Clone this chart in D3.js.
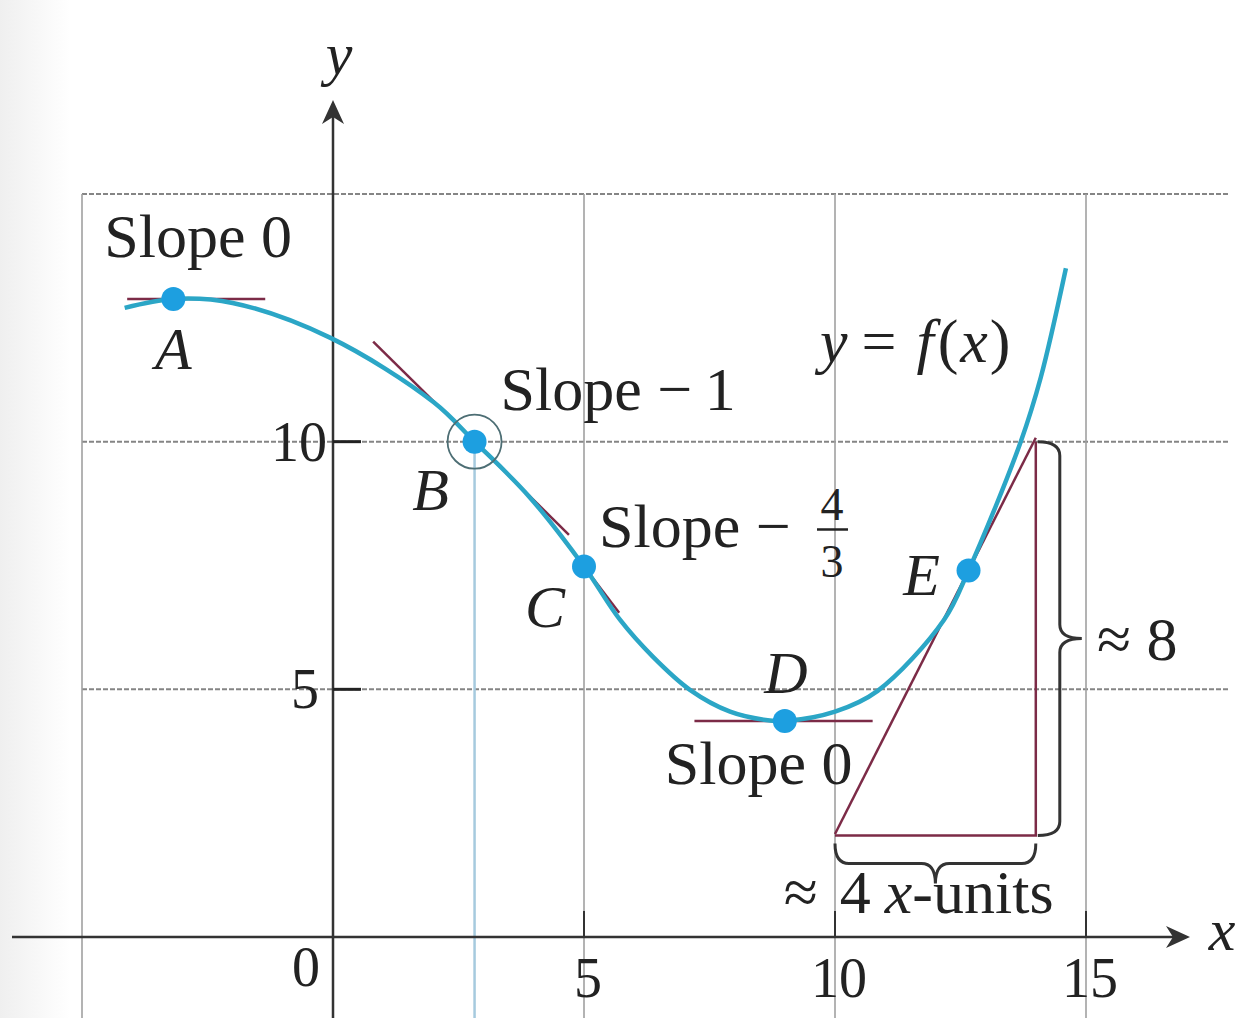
<!DOCTYPE html>
<html>
<head>
<meta charset="utf-8">
<script src="https://cdn.jsdelivr.net/npm/d3@7"></script>
<style>
    html, body { margin: 0; padding: 0; background: #fff; }
    svg { display: block; }
    text { font-family: "Liberation Serif", "Times New Roman", serif; fill: #222; }
    .it { font-style: italic; }
</style>
</head>
<body>
<svg id="chart" width="1240" height="1018"></svg>
<script>
// curve y = f(x), samples
const curveX = [-4.15, -3.18, -2.0, -0.06, 2.0, 2.82, 3.9, 5.0, 5.72, 6.37, 7.11, 7.91, 8.7, 9.0, 10.0, 10.85, 12.17, 12.66, 13.7, 14.1, 14.6];
const curveY = [12.7, 12.88, 12.8, 12.1, 10.8, 10.0, 8.9, 7.48, 6.4, 5.66, 4.99, 4.55, 4.37, 4.36, 4.55, 4.97, 6.4, 7.4, 10.0, 11.3, 13.5];

// marked points
const pointNames = ["A", "B", "C", "D", "E"];
const pointX = [-3.18, 2.82, 5.0, 9.0, 12.66];
const pointY = [12.88, 10.0, 7.48, 4.36, 7.4];

// tangent segments: through the point, from x1 to x2, with slope
const tangentX1 = [-4.1, 0.8, 4.45, 7.2, 10.0];
const tangentX2 = [-1.35, 4.7, 5.7, 10.75, 14.0];
const tangentSlope = [0, -1, -4 / 3, 0, 2];

// rise / run triangle at E
const runStart = [10, 2.05];
const runEnd = [14, 2.05];
const riseEnd = [14, 10];

// grid and ticks
const gridX = [-5, 5, 10, 15];
const gridY = [5, 10, 15];
const xTickLabels = [0, 5, 10, 15];
const yTickLabels = [5, 10];

const svg = d3.select("#chart");

const x = d3.scaleLinear().domain([-5, 15]).range([82, 1086]);
const y = d3.scaleLinear().domain([0, 15]).range([937, 194]);

const xMin = x.invert(12), xMax = x.invert(1230), xArrow = x.invert(1190);
const yBottom = y.invert(1018), yArrow = y.invert(100);

// faint scanned-paper shading at the left edge
const grad = svg.append("defs").append("linearGradient").attr("id", "edge");
grad.append("stop").attr("offset", "0").attr("stop-color", "#efefef");
grad.append("stop").attr("offset", "1").attr("stop-color", "#ffffff");
svg.append("rect").attr("x", 0).attr("y", 0).attr("width", 70).attr("height", 1018).attr("fill", "url(#edge)");

// grid
svg.append("g").selectAll("line")
    .data(gridY)
    .join("line")
    .attr("x1", x(-5)).attr("x2", x(xMax))
    .attr("y1", d => y(d)).attr("y2", d => y(d))
    .attr("stroke", "#858585").attr("stroke-width", 2).attr("stroke-dasharray", "5 2");

svg.append("g").selectAll("line")
    .data(gridX)
    .join("line")
    .attr("x1", d => x(d)).attr("x2", d => x(d))
    .attr("y1", y(15)).attr("y2", y(yBottom))
    .attr("stroke", "#a0a0a0").attr("stroke-width", 1.6);

// vertical line from B down
svg.append("line")
    .attr("x1", x(pointX[1])).attr("x2", x(pointX[1]))
    .attr("y1", y(pointY[1])).attr("y2", y(yBottom))
    .attr("stroke", "#a6cade").attr("stroke-width", 2.5);

// axes
svg.append("line")
    .attr("x1", x(xMin)).attr("x2", x(xArrow) - 6)
    .attr("y1", y(0)).attr("y2", y(0))
    .attr("stroke", "#333").attr("stroke-width", 2.5);
svg.append("line")
    .attr("x1", x(0)).attr("x2", x(0))
    .attr("y1", y(yBottom)).attr("y2", y(yArrow) + 6)
    .attr("stroke", "#333").attr("stroke-width", 2.5);

// arrow heads
const ax = x(xArrow), ay = y(0);
svg.append("path")
    .attr("d", `M${ax},${ay} L${ax - 24},${ay - 11} L${ax - 17},${ay} L${ax - 24},${ay + 11} Z`)
    .attr("fill", "#333");
const bx = x(0), by = y(yArrow);
svg.append("path")
    .attr("d", `M${bx},${by} L${bx - 11},${by + 24} L${bx},${by + 17} L${bx + 11},${by + 24} Z`)
    .attr("fill", "#333");

// tick stubs
svg.append("g").selectAll("line")
    .data(xTickLabels.filter(d => d !== 0))
    .join("line")
    .attr("x1", d => x(d)).attr("x2", d => x(d))
    .attr("y1", y(0)).attr("y2", y(0) - 26)
    .attr("stroke", "#333").attr("stroke-width", 2);
svg.append("g").selectAll("line")
    .data(yTickLabels)
    .join("line")
    .attr("x1", x(0)).attr("x2", x(0) + 28)
    .attr("y1", d => y(d)).attr("y2", d => y(d))
    .attr("stroke", "#222").attr("stroke-width", 3);

// tick labels
svg.append("g").selectAll("text")
    .data(xTickLabels)
    .join("text")
    .attr("x", d => d === 0 ? x(0) - 27 : x(d) + 4)
    .attr("y", d => d === 0 ? 986 : 997)
    .attr("text-anchor", "middle")
    .style("font-size", "56px")
    .text(d => d);
svg.append("g").selectAll("text")
    .data(yTickLabels)
    .join("text")
    .attr("x", d => d === 10 ? x(0) - 6 : x(0) - 14)
    .attr("y", d => y(d) + 19)
    .attr("text-anchor", "end")
    .style("font-size", "56px")
    .text(d => d);

// axis names
svg.append("text").attr("class", "it").attr("x", x(0) + 6).attr("y", 74)
    .attr("text-anchor", "middle").style("font-size", "60px").text("y");
svg.append("text").attr("class", "it").attr("x", 1222).attr("y", 950)
    .attr("text-anchor", "middle").style("font-size", "60px").text("x");

// tangents
const tangentColour = "#7c2b47";
svg.append("g").selectAll("line")
    .data(pointNames)
    .join("line")
    .attr("x1", (d, i) => x(tangentX1[i]))
    .attr("x2", (d, i) => x(tangentX2[i]))
    .attr("y1", (d, i) => y(pointY[i] + tangentSlope[i] * (tangentX1[i] - pointX[i])))
    .attr("y2", (d, i) => y(pointY[i] + tangentSlope[i] * (tangentX2[i] - pointX[i])))
    .attr("stroke", tangentColour).attr("stroke-width", 2.5);

// rise / run triangle
svg.append("path")
    .attr("d", d3.line()([[x(runStart[0]), y(runStart[1])], [x(runEnd[0]), y(runEnd[1])], [x(riseEnd[0]), y(riseEnd[1])]]))
    .attr("fill", "none").attr("stroke", tangentColour).attr("stroke-width", 2.5);

// curve
const line = d3.line()
    .x(d => x(d[0]))
    .y(d => y(d[1]))
    .curve(d3.curveCatmullRom.alpha(0.5));
svg.append("path")
    .datum(d3.zip(curveX, curveY))
    .attr("d", line)
    .attr("fill", "none")
    .attr("stroke", "#2ba6c6")
    .attr("stroke-width", 4.5);

// circle round B
svg.append("circle")
    .attr("cx", x(pointX[1])).attr("cy", y(pointY[1])).attr("r", 27)
    .attr("fill", "none").attr("stroke", "#4d6e74").attr("stroke-width", 1.8);

// points
svg.append("g").selectAll("circle")
    .data(pointNames)
    .join("circle")
    .attr("cx", (d, i) => x(pointX[i]))
    .attr("cy", (d, i) => y(pointY[i]))
    .attr("r", 12)
    .attr("fill", "#1d9fe0");

// braces
function vBrace(x0, y0, y1, w) {
    const m = (y0 + y1) / 2, r = 14;
    return `M${x0},${y0} Q${x0 + w},${y0} ${x0 + w},${y0 + r} L${x0 + w},${m - r} Q${x0 + w},${m} ${x0 + 2 * w},${m}` +
        ` Q${x0 + w},${m} ${x0 + w},${m + r} L${x0 + w},${y1 - r} Q${x0 + w},${y1} ${x0},${y1}`;
}
function hBrace(y0, x0, x1, h) {
    const m = (x0 + x1) / 2, r = 14;
    return `M${x0},${y0} Q${x0},${y0 + h} ${x0 + r},${y0 + h} L${m - r},${y0 + h} Q${m},${y0 + h} ${m},${y0 + 2 * h}` +
        ` Q${m},${y0 + h} ${m + r},${y0 + h} L${x1 - r},${y0 + h} Q${x1},${y0 + h} ${x1},${y0}`;
}
svg.append("path")
    .attr("d", vBrace(x(14) + 2, y(riseEnd[1]), y(runEnd[1]), 22))
    .attr("fill", "none").attr("stroke", "#333").attr("stroke-width", 3);
svg.append("path")
    .attr("d", hBrace(y(runStart[1]) + 8, x(runStart[0]), x(runEnd[0]), 20))
    .attr("fill", "none").attr("stroke", "#333").attr("stroke-width", 3);

// text labels, placed relative to the points
const fs = "62px";
const px = i => x(pointX[i]), py = i => y(pointY[i]);
const letterDx = [0, -44, -39, 1, -47];
const letterDy = [70, 68, 61, -28, 25];
svg.append("g").selectAll("text")
    .data(pointNames)
    .join("text")
    .attr("class", "it")
    .attr("x", (d, i) => px(i) + letterDx[i])
    .attr("y", (d, i) => py(i) + letterDy[i])
    .attr("text-anchor", "middle")
    .style("font-size", "60px")
    .text(d => d);

svg.append("text").attr("x", px(0) - 69).attr("y", py(0) - 42).style("font-size", fs).text("Slope 0");
svg.append("text").attr("x", px(1) + 26).attr("y", py(1) - 32).style("font-size", fs).text("Slope \u2212\u20091");
svg.append("text").attr("x", px(2) + 15).attr("y", py(2) - 19).style("font-size", fs).text("Slope \u2212");
svg.append("text").attr("x", px(2) + 248).attr("y", py(2) - 46).attr("text-anchor", "middle").style("font-size", "46px").text("4");
svg.append("line")
    .attr("x1", px(2) + 233).attr("x2", px(2) + 264)
    .attr("y1", py(2) - 37).attr("y2", py(2) - 37)
    .attr("stroke", "#222").attr("stroke-width", 2.5);
svg.append("text").attr("x", px(2) + 248).attr("y", py(2) + 11).attr("text-anchor", "middle").style("font-size", "46px").text("3");
svg.append("text").attr("x", px(3) - 120).attr("y", py(3) + 63).style("font-size", fs).text("Slope 0");

const fx = svg.append("text").attr("x", x(9.7)).attr("y", y(11.6)).style("font-size", fs);
fx.append("tspan").attr("class", "it").text("y");
fx.append("tspan").attr("dx", 14).text("=");
fx.append("tspan").attr("class", "it").attr("dx", 20).text("f");
fx.append("tspan").attr("dx", 4).text("(");
fx.append("tspan").attr("class", "it").attr("dx", 2).text("x");
fx.append("tspan").attr("dx", 2).text(")");

svg.append("text").attr("x", x(15.22)).attr("y", y(5.6)).style("font-size", fs).text("\u2248 8");

const units = svg.append("text").attr("x", x(8.98)).attr("y", y(0.48)).style("font-size", fs);
units.append("tspan").text("\u2248");
units.append("tspan").attr("dx", 22).text("4");
units.append("tspan").attr("class", "it").attr("dx", 14).text("x");
units.append("tspan").text("-units");
</script>
</body>
</html>
